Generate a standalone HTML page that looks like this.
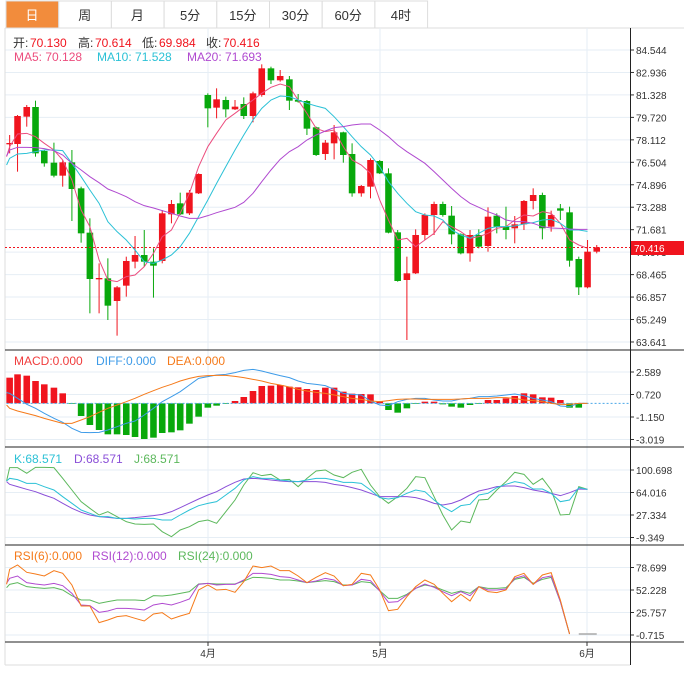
<!DOCTYPE html>
<html><head><meta charset="utf-8"><style>
body{margin:0;background:#fff;width:684px;height:673px;overflow:hidden;font-family:"Liberation Sans","Noto Sans CJK SC",sans-serif}
svg text{font-family:"Liberation Sans","Noto Sans CJK SC",sans-serif}
</style></head><body>
<svg id="s" width="684" height="673" xmlns="http://www.w3.org/2000/svg">
<rect width="684" height="673" fill="#fff"/>
<g id="tabs"></g>
<g id="grid"></g>
<g id="main" transform="scale(0.43846,0.33333)"></g>
<g id="low" transform="translate(0,345) scale(0.43846,0.33333)"></g>
<g id="ax"></g>
</svg>
<script>
const NS="http://www.w3.org/2000/svg";
function el(p,t,a,txt){const e=document.createElementNS(NS,t);for(const k in a)e.setAttribute(k,a[k]);if(txt!==undefined)e.textContent=txt;document.getElementById(p).appendChild(e);return e;}
const tabs=["日","周","月","5分","15分","30分","60分","4时"];
tabs.forEach((t,i)=>{const x=6+i*52.7;el("tabs","rect",{x:x,y:1,width:52.7,height:27,fill:i==0?"#f28c3c":"#fff",stroke:"#ddd","stroke-width":1});
el("tabs","text",{x:x+26,y:20,"text-anchor":"middle","font-size":13,fill:i==0?"#fff":"#333"},t);});
el("tabs","line",{x1:5,y1:28,x2:684,y2:28,stroke:"#ddd"});
const pl=["84.544","82.936","81.328","79.720","78.112","76.504","74.896","73.288","71.681","70.073","68.465","66.857","65.249","63.641"];
pl.forEach((p,i)=>{const y=50+i*22.46;el("grid","line",{x1:5,y1:y,x2:630,y2:y,stroke:"#e6eef5"});el("grid","line",{x1:630,y1:y,x2:634,y2:y,stroke:"#333"});
el("grid","text",{x:636,y:y+4,"font-size":10,fill:"#333"},p);});
function lowgrid(y,t){el("grid","line",{x1:5,y1:y,x2:630,y2:y,stroke:"#e6eef5"});el("grid","line",{x1:630,y1:y,x2:634,y2:y,stroke:"#333"});el("grid","text",{x:636,y:y+4,"font-size":10,fill:"#333"},t);}
[["2.589",372],["0.720",394.5],["-1.150",417],["-3.019",439.5]].forEach(a=>lowgrid(a[1],a[0]));
[["100.698",470],["64.016",492.5],["27.334",515],["-9.349",537.5]].forEach(a=>lowgrid(a[1],a[0]));
[["78.699",567.5],["52.228",590],["25.757",612.5],["-0.715",635]].forEach(a=>lowgrid(a[1],a[0]));
[208,380,587].forEach(x=>el("grid","line",{x1:x,y1:28,x2:x,y2:642,stroke:"#e6eef5"}));
const C=[[22,433,429,405,460,1],[40,432,348,345,515,1],[61,350,321,315,380,1],[81,321,460,302,470,0],[101,453,490,450,500,0],[123,488,527,428,532,0],[143,527,487,480,560,1],[164,487,567,450,663,0],[185,565,700,560,728,0],[205,698,837,655,940,0],[226,836,834,790,940,1],[246,835,917,775,960,0],[267,903,862,858,1007,1],[288,857,783,770,890,1],[308,785,765,708,805,1],[329,765,785,690,800,0],[350,785,797,745,893,0],[370,783,640,630,790,1],[391,643,612,600,670,1],[411,610,643,578,645,0],[432,640,578,570,645,1],[453,580,522,520,582,1],[474,285,325,280,382,0],[494,323,298,265,355,1],[515,300,328,290,352,0],[536,328,320,300,330,1],[556,312,348,292,357,0],[577,348,280,275,367,1],[597,285,205,193,290,1],[618,205,241,200,252,0],[639,241,228,210,245,1],[660,238,302,228,330,0],[680,300,305,282,308,0],[700,303,386,300,405,0],[721,382,465,380,468,0],[742,462,428,420,480,1],[762,430,397,375,478,1],[783,397,465,395,488,0],[803,462,580,430,590,0],[824,580,558,555,590,1],[845,560,480,475,595,1],[866,483,520,480,522,0],[886,520,698,505,700,0],[907,697,843,690,845,0],[928,840,820,770,1020,1],[948,820,705,688,822,1],[969,705,645,640,720,1],[990,645,612,605,705,1],[1010,612,645,605,650,0],[1030,647,703,618,733,0],[1051,703,760,700,763,0],[1072,760,705,690,785,1],[1092,705,740,688,745,0],[1113,738,650,622,755,1],[1133,647,680,640,700,0],[1154,680,690,620,718,0],[1174,685,673,648,730,1],[1195,673,603,600,690,1],[1216,603,585,565,628,1],[1237,585,685,578,718,0],[1257,680,645,632,695,1],[1278,625,632,612,660,0],[1299,637,782,620,800,0],[1320,777,862,770,885,0],[1340,862,755,720,865,1],[1361,755,742,735,760,1]];
const NSS={"vector-effect":"non-scaling-stroke"};
C.forEach(c=>{const col=c[5]?"#f0141e":"#08a80c";el("main","line",Object.assign({x1:c[0],y1:c[3],x2:c[0],y2:c[4],stroke:col,"stroke-width":1},NSS));
const t=Math.min(c[1],c[2]),h=Math.max(Math.abs(c[1]-c[2]),4);el("main","rect",{x:c[0]-7.5,y:t,width:15,height:h,fill:col});});
function pl_(g,pts,col){el(g,"polyline",Object.assign({points:pts.map(p=>p.join(",")).join(" "),fill:"none",stroke:col,"stroke-width":1},NSS));}
const X=C.map(c=>c[0]);X.unshift(15);
function S(arr){return arr.map((y,i)=>[X[i],y]);}
pl_("main",S([470,440,402,400,410,430,450,480,540,630,680,780,840,845,830,825,800,760,710,690,640,580,500,440,400,360,340,320,300,280,262,252,260,300,340,385,395,390,440,480,495,520,600,660,720,715,740,720,700,665,680,695,715,710,700,685,680,660,645,648,635,640,670,720,735,745]),"#ec4d7e");
pl_("main",S([495,475,462,460,455,450,450,452,490,530,570,610,665,695,720,750,785,790,780,765,740,700,650,600,550,500,450,405,360,325,300,288,290,300,310,318,325,350,380,410,440,465,500,545,580,610,635,645,648,660,690,705,715,700,685,680,680,678,672,668,660,658,670,690,690,694]),"#2bc1d6");
pl_("main",S([468,450,442,442,443,446,452,465,490,510,530,548,567,578,590,605,617,624,632,640,648,655,655,647,638,630,622,607,580,545,510,478,455,440,420,405,393,383,380,375,372,372,390,410,435,455,472,490,515,540,565,590,610,622,635,645,660,665,665,670,680,684,685,687,688,688]),"#b04ad0");
const H=[98,88,92,108,118,128,145,175,213,240,255,268,268,270,276,282,278,264,262,256,236,215,188,182,177,168,156,138,123,122,120,125,127,132,135,128,128,140,146,147,148,168,195,203,190,175,170,170,178,185,188,180,176,165,165,160,153,145,148,157,158,165,188,188];
H.forEach((y,i)=>{const x=C[i][0],up=y<175;el("low","rect",{x:x-7.5,y:Math.min(y,175),width:15,height:Math.max(Math.abs(y-175),2),fill:up?"#f0141e":"#08a80c"});});
el("low","line",Object.assign({x1:15,y1:175,x2:1435,y2:175,stroke:"#4aa8e8","stroke-width":1,"stroke-dasharray":"2,2"},NSS));
pl_("low",S([143,145,160,178,190,205,220,232,250,262,263,262,255,245,235,228,210,190,170,155,140,120,100,95,90,88,83,76,73,78,85,92,98,108,115,118,122,133,145,148,150,168,180,182,170,163,160,160,165,168,168,162,160,155,155,153,150,147,152,160,165,170,183,185,175,175]),"#3d9be8");
pl_("low",S([180,190,198,205,212,220,228,235,235,225,215,202,190,180,170,160,148,137,127,118,108,100,94,92,91,91,94,98,103,108,115,120,126,133,138,142,145,150,155,160,163,168,170,167,163,162,162,163,163,163,163,162,160,160,160,158,158,160,165,167,170,175,178,178,175,175]),"#f57a1a");
pl_("low",S([408,368,368,385,367,367,368,400,435,470,490,510,500,515,530,537,538,537,560,575,555,545,530,525,535,500,465,420,383,392,388,405,403,425,400,378,375,390,398,382,373,420,455,475,455,430,395,398,455,510,555,528,533,465,463,435,410,382,388,418,400,435,510,508,425,433]),"#5cb85c");
pl_("low",S([410,418,425,433,440,450,460,475,490,502,510,515,517,520,520,518,515,512,508,500,488,475,462,450,440,425,412,402,400,402,405,408,410,410,410,410,412,418,422,428,435,445,455,455,455,455,458,465,475,480,475,465,450,438,432,425,423,423,428,435,440,445,452,443,432,433]),"#8a4fd8");
pl_("low",S([408,400,404,415,415,425,435,455,475,495,505,515,515,520,520,522,520,520,525,525,510,495,482,475,470,450,430,405,395,400,400,405,408,410,405,400,400,405,412,412,415,435,458,462,458,445,435,440,465,485,500,482,478,450,445,428,418,410,415,432,432,445,470,465,428,433]),"#2bc1d6");
pl_("low",S([728,718,713,725,728,730,728,735,752,765,765,775,770,765,765,765,767,752,753,750,745,740,717,715,717,717,717,708,697,698,700,705,705,708,713,710,707,710,720,720,710,713,737,760,760,748,730,720,725,735,745,738,745,725,730,730,728,703,697,715,703,697,770,867]),"#5cb85c");
pl_("low",S([715,700,693,713,717,720,715,722,745,780,782,802,798,790,790,792,795,780,775,780,772,762,718,715,720,718,718,705,685,685,688,695,697,705,713,708,700,705,722,720,703,707,738,772,770,750,730,717,727,740,752,740,752,725,735,735,732,700,692,718,698,693,770,867]),"#b04ad0");
pl_("low",S([718,673,660,682,687,693,677,685,720,783,783,833,825,815,812,820,828,807,803,822,813,805,735,720,735,733,742,710,663,668,663,677,677,693,713,697,683,693,722,718,685,690,735,797,793,755,725,705,718,745,770,748,768,725,740,743,735,695,685,718,690,683,765,867]),"#f57a1a");
el("low","line",Object.assign({x1:1320,y1:867,x2:1361,y2:867,stroke:"#aaa","stroke-width":1.5},NSS));
const A="ax";
el(A,"line",{x1:5,y1:28,x2:5,y2:665,stroke:"#ddd"});
el(A,"line",{x1:630.5,y1:28,x2:630.5,y2:665,stroke:"#222"});
[350,447,545,642].forEach(y=>el(A,"line",{x1:5,y1:y,x2:684,y2:y,stroke:"#222"}));
el(A,"line",{x1:5,y1:665,x2:630,y2:665,stroke:"#ddd"});
[["4月",208],["5月",380],["6月",587]].forEach(a=>{el(A,"line",{x1:a[1],y1:642,x2:a[1],y2:646,stroke:"#333"});el(A,"text",{x:a[1],y:657,"text-anchor":"middle","font-size":10,fill:"#333"},a[0]);});
el(A,"line",{x1:5,y1:247.5,x2:630,y2:247.5,stroke:"#f0141e","stroke-dasharray":"2,2"});
el(A,"rect",{x:631,y:241,width:53,height:14,fill:"#f0141e"});
el(A,"text",{x:634,y:252,"font-size":10,fill:"#fff"},"70.416");
function T(y,parts){parts.forEach(p=>el(A,"text",{x:p[0],y:y,"font-size":12,fill:p[2]},p[1]));}
T(47,[[13,"开:","#333"],[30,"70.130","#f0141e"],[78,"高:","#333"],[95,"70.614","#f0141e"],[142,"低:","#333"],[159,"69.984","#f0141e"],[206,"收:","#333"],[223,"70.416","#f0141e"]]);
T(61,[[14,"MA5: 70.128","#ec4d7e"],[97,"MA10: 71.528","#2bc1d6"],[187,"MA20: 71.693","#b04ad0"]]);
T(365,[[14,"MACD:0.000","#f03c3c"],[96,"DIFF:0.000","#3d9be8"],[167,"DEA:0.000","#f57a1a"]]);
T(463,[[14,"K:68.571","#2bc1d6"],[74,"D:68.571","#8a4fd8"],[134,"J:68.571","#5cb85c"]]);
T(560,[[14,"RSI(6):0.000","#f57a1a"],[92,"RSI(12):0.000","#b04ad0"],[178,"RSI(24):0.000","#5cb85c"]]);
</script>
</body></html>
